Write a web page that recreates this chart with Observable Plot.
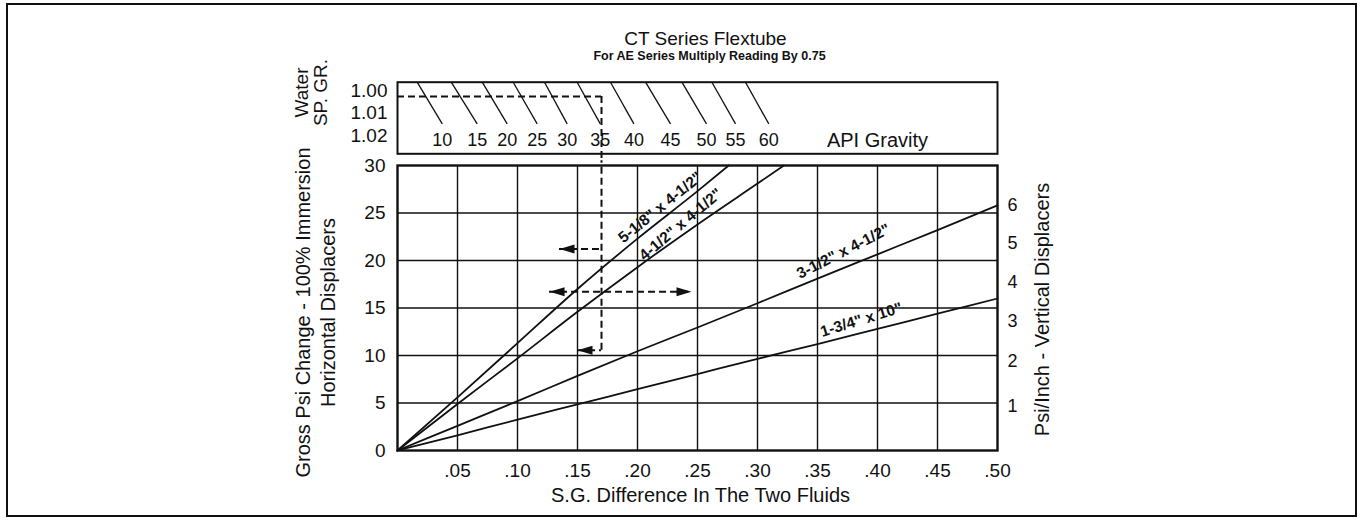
<!DOCTYPE html>
<html><head><meta charset="utf-8">
<script src="https://cdn.jsdelivr.net/npm/d3@7"></script>
<script src="https://cdn.jsdelivr.net/npm/@observablehq/plot@0.6"></script>
<style>
html,body{margin:0;padding:0;background:#fff;}
#chart{position:relative;width:1361px;height:525px;overflow:hidden;background:#fff;}
#border{position:absolute;left:6px;top:3px;width:1351px;height:514px;border:2px solid #111;box-sizing:border-box;}
#top,#main{position:absolute;left:0;}
#top{top:0px}
#main{top:160px}
</style></head><body>
<div id="chart"><div id="border"></div><div id="top"></div><div id="main"></div></div>
<script>
// ---- data ----
const sgDiffTicks = [0.05,0.10,0.15,0.20,0.25,0.30,0.35,0.40,0.45,0.50];
const psiTicks = [0,5,10,15,20,25,30];
const psiPerInchTicks = [1,2,3,4,5,6];
const psiPerInchAtPsi = [4.7,9.4,13.6,17.75,21.8,25.8];   // where each right-axis tick sits on the left scale
const waterSGTicks = [1.00,1.01,1.02];
const waterSGDomain = [0.9963, 1.0281];

const apiGravity = [10,15,20,25,30,35,40,45,50,55,60];
const apiTopDiff = [0.0164,0.0448,0.0706,0.0964,0.1225,0.1497,0.1775,0.2067,0.2370,0.2620,0.2900];
const apiBottomDiff = [0.0373,0.0664,0.0914,0.1164,0.1414,0.1690,0.1970,0.2275,0.2575,0.2817,0.3094];
const apiLineBottomSG = 1.0148;
const apiLabelSG = 1.0222;

const seriesNames = ['5-1/8" x 4-1/2"', '4-1/2" x 4-1/2"', '3-1/2" x 4-1/2"', '1-3/4" x 10"'];
const diffA = [0,0.05,0.10,0.15,0.20,0.25,0.276];
const psiA  = [0,5.6,11.3,17.0,22.3,27.3,30];
const diffB = [0,0.05,0.10,0.15,0.20,0.25,0.30,0.322];
const psiB  = [0,4.9,9.7,14.6,19.3,23.8,28.1,30];
const diffC = [0,0.05,0.10,0.15,0.20,0.25,0.30,0.35,0.40,0.45,0.50];
const psiC  = [0,2.6,5.2,7.85,10.45,12.95,15.5,18.1,20.65,23.2,25.8];
const diffD = [0,0.05,0.10,0.15,0.20,0.25,0.30,0.35,0.40,0.45,0.50];
const psiD  = [0,1.6,3.25,4.85,6.45,8.05,9.65,11.2,12.8,14.4,16.0];
const labelDiff = [0.219,0.236,0.3716,0.3865];
const labelPsi  = [25.6,23.8,20.96,13.76];

// worked example (dashed reading path)
const exampleDiff = 0.17;
const exampleWaterSG = 1.0027;
const examplePsi = 10.56;
const arrowPsi   = [21.2, 16.7, 10.56];
const arrowLeft  = [0.135, 0.1267, 0.15];
const arrowRight = [0.17, 0.245, 0.17];

// ---- build ----
const FONT = '"Liberation Sans", Arial, Helvetica, sans-serif';
const INK = "#111";
const series = [[diffA,psiA],[diffB,psiB],[diffC,psiC],[diffD,psiD]];
const lineRows = series.flatMap(([xs,ys],i) => xs.map((x,j) => ({name: seriesNames[i], x, y: ys[j]})));
const labelRows = seriesNames.map((name,i) => ({name, x: labelDiff[i], y: labelPsi[i]}));
const labelRotate = [-39,-40,-27,-17];
const apiRows = apiGravity.map((g,i) => ({g, x1: apiTopDiff[i], x2: apiBottomDiff[i]}));
const arrows = arrowPsi.map((y,i) => ({y, x1: arrowLeft[i], x2: arrowRight[i]}));
const headL = {draw(ctx){ ctx.moveTo(0,0); ctx.lineTo(15,-4.5); ctx.lineTo(15,4.5); ctx.closePath(); }};
const headR = {draw(ctx){ ctx.moveTo(0,0); ctx.lineTo(-15,-4.5); ctx.lineTo(-15,4.5); ctx.closePath(); }};
const dash = {stroke: INK, strokeWidth: 2, strokeDasharray: "7,4"};
const fmtDiff = d => d.toFixed(2).replace(/^0/, "");
const rightTickMap = new Map(psiPerInchAtPsi.map((p,i) => [p, psiPerInchTicks[i]]));

const common = {
  width: 1361, marginLeft: 397, marginRight: 364,
  x: {domain: [0, 0.5], axis: null},
  style: {fontFamily: FONT, fontSize: "19px", background: "transparent", color: INK, overflow: "visible"}
};

const topPlot = Plot.plot({
  ...common,
  height: 160, marginTop: 81.7, marginBottom: 6.7,
  y: {domain: waterSGDomain, reverse: true, axis: null},
  marks: [
    Plot.link(apiRows, {x1: "x1", y1: waterSGDomain[0], x2: "x2", y2: apiLineBottomSG, stroke: INK, strokeWidth: 1.3}),
    Plot.text(apiRows, {x: "x2", y: apiLabelSG, text: d => String(d.g), fontSize: 18, fill: INK, lineAnchor: "middle"}),
    Plot.text(["API Gravity"], {x: 0.40, y: apiLabelSG, text: d => d, fontSize: 20, fill: INK, lineAnchor: "middle"}),
    Plot.ruleY([exampleWaterSG], {x1: 0, x2: exampleDiff, ...dash}),
    Plot.ruleX([exampleDiff], {y1: exampleWaterSG, y2: 1.0311, ...dash}),
    Plot.axisY(waterSGTicks, {anchor: "left", tickSize: 0, tickPadding: 10, tickFormat: d3.format(".2f"), fontSize: 19, fill: INK, label: null}),
    Plot.text(["Water\nSP. GR."], {frameAnchor: "top-left", text: d => d, rotate: -90, dx: -86, dy: 10.3, fontSize: 19, lineHeight: 0.97, lineAnchor: "middle", textAnchor: "middle", fill: INK}),
    Plot.text(["CT Series Flextube"], {frameAnchor: "top", text: d => d, dx: 8, dy: -43, fontSize: 19, lineAnchor: "middle", fill: INK}),
    Plot.text(["For AE Series Multiply Reading By 0.75"], {frameAnchor: "top", text: d => d, dx: 12, dy: -26.5, fontSize: 12.5, fontWeight: "bold", lineAnchor: "middle", fill: INK}),
    Plot.frame({stroke: INK, strokeWidth: 2})
  ]
});

const mainPlot = Plot.plot({
  ...common,
  height: 365, marginTop: 5, marginBottom: 75,
  y: {domain: [0, 30], axis: null},
  marks: [
    Plot.ruleX(sgDiffTicks.slice(0, -1), {y1: 0, y2: 30, stroke: INK, strokeWidth: 1.4}),
    Plot.ruleY(psiTicks.slice(1, -1), {x1: 0, x2: 0.5, stroke: INK, strokeWidth: 1.4}),
    Plot.line(lineRows, {x: "x", y: "y", z: "name", stroke: INK, strokeWidth: 1.8, curve: "monotone-x"}),
    Plot.text(labelRows, {x: "x", y: "y", text: "name", rotate: (d,i) => labelRotate[i],
      fontSize: 15.5, fontWeight: "bold", fill: INK, lineAnchor: "middle"}),
    Plot.ruleX([exampleDiff], {y1: examplePsi, y2: 30.5, ...dash}),
    Plot.ruleY(arrows, {y: "y", x1: "x1", x2: "x2", ...dash}),
    Plot.dot(arrows, {x: "x1", y: "y", symbol: headL, fill: INK, stroke: "none"}),
    Plot.dot(arrows.filter(d => d.x2 !== exampleDiff), {x: "x2", y: "y", symbol: headR, fill: INK, stroke: "none"}),
    Plot.axisX(sgDiffTicks, {anchor: "bottom", tickSize: 0, tickPadding: 13, tickFormat: fmtDiff, fontSize: 19, fill: INK, label: null}),
    Plot.axisY(psiTicks, {anchor: "left", tickSize: 0, tickPadding: 12, fontSize: 19, fill: INK, label: null}),
    Plot.axisY(psiPerInchAtPsi, {anchor: "right", tickSize: 0, tickPadding: 10,
      tickFormat: d => String(rightTickMap.get(d)), fontSize: 18, fill: INK, label: null}),
    Plot.text(["S.G. Difference In The Two Fluids"], {frameAnchor: "bottom", text: d => d, dx: 3, dy: 45, fontSize: 20, lineAnchor: "middle", fill: INK}),
    Plot.text(["Gross Psi Change - 100% Immersion\nHorizontal Displacers"], {frameAnchor: "left", text: d => d, rotate: -90, dx: -83, dy: 4.5,
      fontSize: 20, lineHeight: 1.25, lineAnchor: "middle", textAnchor: "middle", fill: INK}),
    Plot.text(["Psi/Inch - Vertical Displacers"], {frameAnchor: "right", text: d => d, rotate: -90, dx: 44.7, dy: 1.5,
      fontSize: 20, lineAnchor: "middle", textAnchor: "middle", fill: INK}),
    Plot.frame({stroke: INK, strokeWidth: 2.4})
  ]
});

document.getElementById("top").appendChild(topPlot);
document.getElementById("main").appendChild(mainPlot);
</script>
</body></html>
